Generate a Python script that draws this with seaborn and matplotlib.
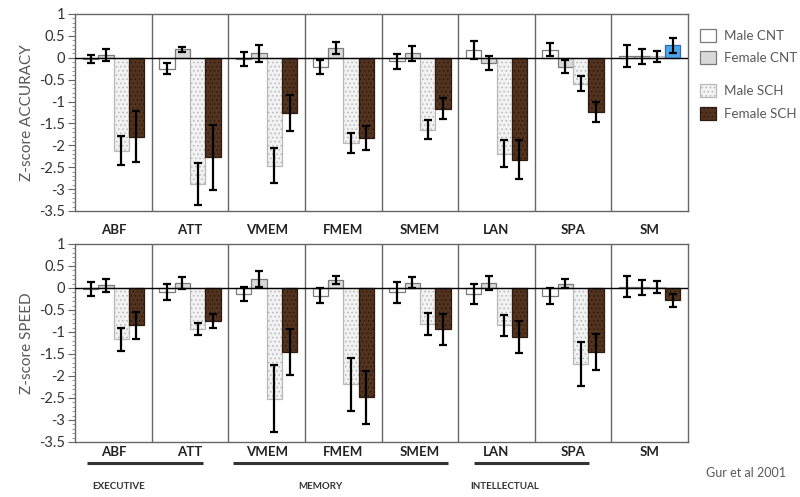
import numpy as np
import pandas as pd
import matplotlib
matplotlib.use("Agg")
import matplotlib.pyplot as plt
import matplotlib.transforms as mtransforms
from matplotlib.patches import Patch
from matplotlib.ticker import MultipleLocator, FuncFormatter
import seaborn as sns

categories = ["ABF", "ATT", "VMEM", "FMEM", "SMEM", "LAN", "SPA", "SM"]
groups = ["Male CNT", "Female CNT", "Male SCH", "Female SCH"]

# Accuracy panel
acc_male_cnt = [-0.03, -0.25, -0.03, -0.21, -0.08, 0.18, 0.18, 0.03]
acc_male_cnt_err = [0.10, 0.12, 0.15, 0.15, 0.17, 0.21, 0.15, 0.25]
acc_female_cnt = [0.06, 0.19, 0.10, 0.22, 0.10, -0.12, -0.20, 0.03]
acc_female_cnt_err = [0.13, 0.06, 0.19, 0.13, 0.17, 0.17, 0.15, 0.17]
acc_male_sch = [-2.12, -2.88, -2.47, -1.95, -1.64, -2.19, -0.59, 0.03]
acc_male_sch_err = [0.34, 0.48, 0.40, 0.22, 0.22, 0.30, 0.17, 0.13]
acc_female_sch = [-1.80, -2.27, -1.26, -1.83, -1.16, -2.33, -1.24, 0.28]
acc_female_sch_err = [0.58, 0.74, 0.41, 0.28, 0.25, 0.44, 0.22, 0.18]

# Speed panel
spd_male_cnt = [-0.03, -0.10, -0.13, -0.18, -0.10, -0.13, -0.18, 0.03]
spd_male_cnt_err = [0.16, 0.18, 0.16, 0.17, 0.24, 0.23, 0.19, 0.24]
spd_female_cnt = [0.06, 0.12, 0.20, 0.18, 0.12, 0.12, 0.10, 0.02]
spd_female_cnt_err = [0.15, 0.14, 0.18, 0.10, 0.12, 0.16, 0.11, 0.17]
spd_male_sch = [-1.17, -0.94, -2.52, -2.19, -0.83, -0.85, -1.73, 0.02]
spd_male_sch_err = [0.27, 0.14, 0.76, 0.60, 0.25, 0.24, 0.50, 0.14]
spd_female_sch = [-0.85, -0.76, -1.45, -2.48, -0.94, -1.11, -1.45, -0.28]
spd_female_sch_err = [0.30, 0.16, 0.52, 0.60, 0.35, 0.37, 0.41, 0.15]

domain_labels = ["EXECUTIVE", "MEMORY", "INTELLECTUAL"]
y_ticks = [1, 0.5, 0, -0.5, -1, -1.5, -2, -2.5, -3, -3.5]

sns.set_style("white")
plt.rcParams["font.family"] = ["Lato", "DejaVu Sans"]
plt.rcParams["hatch.linewidth"] = 0.6

faces = {"Male CNT": "#ffffff", "Female CNT": "#d9d9d9",
         "Male SCH": "#f2f2f2", "Female SCH": "#52331f"}
edges = {"Male CNT": "#7a7a7a", "Female CNT": "#7a7a7a",
         "Male SCH": "#b8b8b8", "Female SCH": "#2e1a0e"}
hatches = {"Male CNT": None, "Female CNT": None,
           "Male SCH": "....", "Female SCH": "...."}


def make_df(vals):
    rows = []
    for g, v in zip(groups, vals):
        for c, x in zip(categories, v):
            rows.append({"cat": c, "group": g, "value": x})
    return pd.DataFrame(rows)


fig = plt.figure(figsize=(8, 4.97), dpi=100)
ax1 = fig.add_axes([0.094, 0.5755, 0.766, 0.3964])
ax2 = fig.add_axes([0.094, 0.1107, 0.766, 0.3984])

panels = [
    (ax1, [acc_male_cnt, acc_female_cnt, acc_male_sch, acc_female_sch],
     [acc_male_cnt_err, acc_female_cnt_err, acc_male_sch_err, acc_female_sch_err],
     "Z-score ACCURACY", 9.5),
    (ax2, [spd_male_cnt, spd_female_cnt, spd_male_sch, spd_female_sch],
     [spd_male_cnt_err, spd_female_cnt_err, spd_male_sch_err, spd_female_sch_err],
     "Z-score SPEED", 3),
]

for ax, vals, errs, ylab, pad in panels:
    df = make_df(vals)
    sns.barplot(data=df, x="cat", y="value", hue="group", order=categories,
                hue_order=groups, palette=faces, errorbar=None, width=0.8,
                saturation=1, legend=False, ax=ax)
    for gi, (g, cont) in enumerate(zip(groups, ax.containers)):
        xs = []
        for bar in cont:
            bar.set_edgecolor(edges[g])
            bar.set_linewidth(0.9)
            if hatches[g]:
                bar.set_hatch(hatches[g])
            xs.append(bar.get_x() + bar.get_width() / 2)
        ax.errorbar(xs, vals[gi], yerr=errs[gi], fmt="none", ecolor="black",
                    elinewidth=1.6, capsize=3.2, capthick=1.6, zorder=5)
    ax.axhline(0, color="black", lw=1, zorder=4)
    for b in np.arange(0.5, len(categories) - 0.5, 1):
        ax.axvline(b, color="#666666", lw=1, zorder=3)
    ax.set_xlim(-0.5, len(categories) - 0.5)
    ax.set_ylim(-3.5, 1)
    ax.set_yticks(y_ticks)
    ax.yaxis.set_major_formatter(FuncFormatter(lambda v, p: f"{v:g}"))
    ax.yaxis.set_minor_locator(MultipleLocator(0.1))
    ax.tick_params(axis="y", which="major", direction="out", length=5,
                   width=0.8, color="#666666", labelsize=10.5,
                   labelcolor="#333333", left=True, pad=2)
    ax.tick_params(axis="y", which="minor", direction="out", length=2.5,
                   width=0.6, color="#888888", left=True)
    ax.tick_params(axis="x", length=0, labelsize=9.5, pad=pad,
                   labelcolor="#222222")
    for t in ax.get_xticklabels():
        t.set_fontweight("bold")
    ax.set_xlabel("")
    ax.set_ylabel(ylab, fontsize=11, color="#595959", labelpad=4)
    for s in ax.spines.values():
        s.set_visible(True)
        s.set_color("#666666")
        s.set_linewidth(1)

# blue SM female SCH bar in the accuracy panel
blue_bar = ax1.containers[3][categories.index("SM")]
blue_bar.set_facecolor("#4ea6ea")
blue_bar.set_edgecolor("#2a6db0")
blue_bar.set_hatch(None)

# domain underlines and labels below the speed panel
trans = mtransforms.blended_transform_factory(ax2.transData, ax2.transAxes)
spans = [(-0.34, 1.17), (1.56, 4.37), (4.71, 6.21)]
centers = [0.07, 2.70, 5.11]
for (a, b), c, lab in zip(spans, centers, domain_labels):
    ax2.plot([a, b], [-0.106, -0.106], transform=trans, color="#333333",
             lw=2.2, clip_on=False, solid_capstyle="butt")
    ax2.text(c, -0.227, lab, transform=trans, ha="center", va="center",
             fontsize=7, fontweight="bold", color="#333333")

fig.text(0.882, 0.048, "Gur et al 2001", fontsize=9, color="#595959",
         ha="left", va="center")


# legends: controls block and patients block
def patch_for(g):
    return Patch(facecolor=faces[g], edgecolor=edges[g], hatch=hatches[g],
                 linewidth=0.9)


leg_kw = dict(loc="upper left", frameon=False, fontsize=9.6, handlelength=1.2,
              handleheight=1.1, handletextpad=0.6, labelspacing=0.7,
              borderaxespad=0, borderpad=0)
leg1 = fig.legend([patch_for(g) for g in groups[:2]], groups[:2],
                  bbox_to_anchor=(0.875, 0.942), **leg_kw)
leg2 = fig.legend([patch_for(g) for g in groups[2:]], groups[2:],
                  bbox_to_anchor=(0.875, 0.830), **leg_kw)
for leg in (leg1, leg2):
    for t in leg.get_texts():
        t.set_color("#595959")

fig.savefig("out.png", dpi=100)
